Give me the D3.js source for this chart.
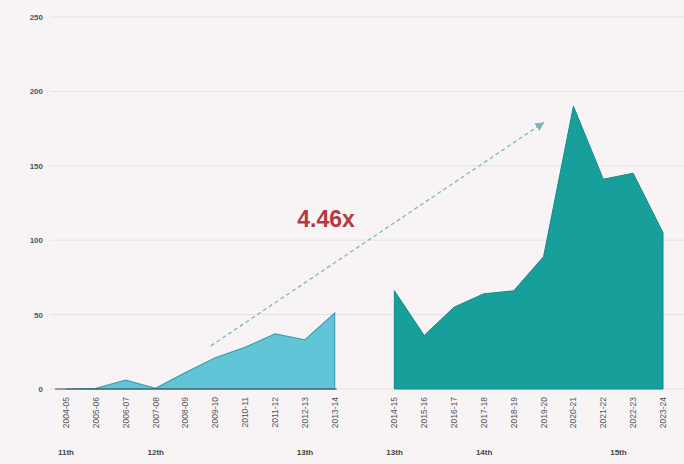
<!DOCTYPE html>
<html>
<head>
<meta charset="utf-8">
<script src="https://cdn.jsdelivr.net/npm/d3@7"></script>
<style>
  html, body { margin: 0; padding: 0; background: #f8f4f5; }
  svg { display: block; }
  text { font-family: "Liberation Sans", Arial, sans-serif; }
</style>
</head>
<body>
<svg id="chart" width="684" height="464"></svg>
<script>
// ---- data ----
const leftYears  = ["2004-05","2005-06","2006-07","2007-08","2008-09","2009-10","2010-11","2011-12","2012-13","2013-14"];
const leftValues = [0, 0.5, 6, 0.5, 11, 21, 28, 37, 33, 51];
const rightYears  = ["2014-15","2015-16","2016-17","2017-18","2018-19","2019-20","2020-21","2021-22","2022-23","2023-24"];
const rightValues = [66, 36, 55, 64, 66, 89, 190, 141, 145, 105];
const yTicks = [0, 50, 100, 150, 200, 250];
const groupLabels = [
  { text: "11th", at: 0 }, { text: "12th", at: 3 }, { text: "13th", at: 8 },
  { text: "13th", at: 11 }, { text: "14th", at: 14 }, { text: "15th", at: 18.5 }
];
const growthLabel = "4.46x";
const arrowFrom = { at: 4.85, value: 29 };
const arrowTo   = { at: 16.0, value: 179 };

// ---- layout ----
const svg = d3.select("#chart");
const slots = leftYears.length + 1 + rightYears.length; // one empty slot between the groups
const x = d3.scaleLinear().domain([0, slots - 1]).range([66, 663]);
const y = d3.scaleLinear().domain([0, 250]).range([389, 17]);

const leftData  = leftYears.map((d, i) => ({ label: d, i: i, v: leftValues[i] }));
const rightData = rightYears.map((d, i) => ({ label: d, i: i + leftYears.length + 1, v: rightValues[i] }));

// gridlines
svg.append("g").selectAll("line").data(yTicks).join("line")
  .attr("x1", 50).attr("x2", 684)
  .attr("y1", d => y(d)).attr("y2", d => y(d))
  .attr("stroke", "#e6e1e2").attr("stroke-width", 1);

// y axis labels
const yAxis = d3.axisLeft(y).tickValues(yTicks).tickSize(0).tickPadding(0);
const gy = svg.append("g").attr("transform", "translate(43,0)").call(yAxis);
gy.select(".domain").remove();
gy.selectAll("text").attr("font-size", 8).attr("fill", "#555").attr("font-weight", "bold");

// areas
const area = d3.area().x(d => x(d.i)).y0(y(0)).y1(d => y(d.v)).curve(d3.curveLinear);
svg.append("path").datum(leftData).attr("d", area)
  .attr("fill", "#62c4d7").attr("stroke", "#3d9fb2").attr("stroke-width", 1.2);
svg.append("path").datum(rightData).attr("d", area)
  .attr("fill", "#17a09b").attr("stroke", "#128a86").attr("stroke-width", 1);

// baselines
svg.append("line").attr("x1", 55).attr("x2", x(leftData.length - 1) + 2)
  .attr("y1", y(0)).attr("y2", y(0)).attr("stroke", "#444").attr("stroke-width", 1);

// x labels (rotated)
const allData = leftData.concat(rightData);
svg.append("g").selectAll("text").data(allData).join("text")
  .attr("transform", d => `translate(${x(d.i) + 3},397) rotate(-90)`)
  .attr("text-anchor", "end")
  .attr("font-size", 8.5)
  .attr("fill", "#555")
  .text(d => d.label);

// group labels
svg.append("g").selectAll("text").data(groupLabels).join("text")
  .attr("x", d => x(d.at) - 8)
  .attr("y", 455)
  .attr("font-size", 8)
  .attr("font-weight", "bold")
  .attr("fill", "#444")
  .text(d => d.text);

// dashed arrow annotation
svg.append("defs").append("marker")
  .attr("id", "arrow").attr("viewBox", "0 0 10 10")
  .attr("refX", 9).attr("refY", 5)
  .attr("markerWidth", 7).attr("markerHeight", 7)
  .attr("orient", "auto")
  .append("path").attr("d", "M0,0 L10,5 L0,10 z").attr("fill", "#7fb7b8");
svg.append("line")
  .attr("x1", x(arrowFrom.at)).attr("y1", y(arrowFrom.value))
  .attr("x2", x(arrowTo.at)).attr("y2", y(arrowTo.value))
  .attr("stroke", "#7fb7b8").attr("stroke-width", 1.3)
  .attr("stroke-dasharray", "4,3")
  .attr("marker-end", "url(#arrow)");

svg.append("text")
  .attr("x", 326).attr("y", 227)
  .attr("text-anchor", "middle")
  .attr("font-size", 23).attr("font-weight", "bold")
  .attr("fill", "#b33a44")
  .text(growthLabel);
</script>
</body>
</html>
